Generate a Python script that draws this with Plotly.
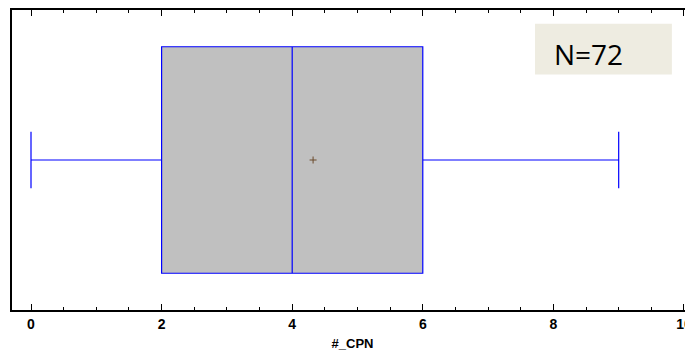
import plotly.graph_objects as go

# Data
var_name = "#_CPN"
q1_vals = [2]
median_vals = [4]
q3_vals = [6]
lower_vals = [0]
upper_vals = [9]
mean_vals = [4.32]
n_label = "N=72"
x_ticks = [0, 2, 4, 6, 8, 10]

fig = go.Figure()
fig.add_trace(go.Box(
    y=[0], q1=q1_vals, median=median_vals, q3=q3_vals,
    lowerfence=lower_vals, upperfence=upper_vals,
    orientation="h", width=1.51, whiskerwidth=0.25,
    fillcolor="#C0C0C0", line=dict(color="#0000FF", width=1.2),
    boxpoints=False, showlegend=False, hoverinfo="skip",
))
fig.add_trace(go.Scatter(
    x=mean_vals, y=[0], mode="markers",
    marker=dict(symbol="cross-thin", size=5, line=dict(color="#6B4A2B", width=1)),
    showlegend=False, hoverinfo="skip",
))

axis_font = dict(family="Liberation Sans, Arial", size=14, color="#000000", weight="bold")
fig.update_layout(
    width=685, height=348,
    margin=dict(l=4, r=0, t=0, b=46),
    plot_bgcolor="white", paper_bgcolor="white",
    xaxis=dict(
        range=[-0.291, 10.138], tickvals=x_ticks,
        ticktext=[str(v) for v in x_ticks],
        tickfont=axis_font, ticks="inside", ticklen=6, tickwidth=1.2, tickcolor="#000",
        minor=dict(dtick=0.5, tick0=0, ticks="inside", ticklen=3, tickwidth=1, tickcolor="#000"),
        showline=True, linecolor="#000", linewidth=1.5, mirror="ticks",
        showgrid=False, zeroline=False,
        title=dict(text=var_name, font=dict(family="Liberation Sans, Arial", size=13, color="#000", weight="bold"), standoff=8),
    ),
    yaxis=dict(
        range=[-1, 1], showticklabels=False, ticks="", showgrid=False, zeroline=False,
        showline=True, linecolor="#000", linewidth=1.5,
    ),
    shapes=[dict(type="rect", xref="paper", yref="paper",
                 x0=0.768, x1=0.969, y0=0.785, y1=0.954,
                 fillcolor="#EEECE1", line=dict(width=0), layer="above")],
    annotations=[dict(text=n_label, xref="paper", yref="paper", x=0.847, y=0.853,
                      showarrow=False, xanchor="center", yanchor="middle",
                      font=dict(family="Open Sans", size=28, color="#000"))],
)

fig.write_html("out.html")
